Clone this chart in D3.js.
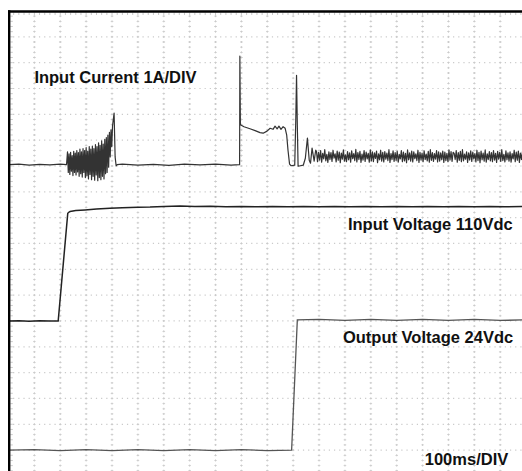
<!DOCTYPE html>
<html>
<head>
<meta charset="utf-8">
<script src="https://cdn.jsdelivr.net/npm/d3@7"></script>
<style>
body { margin: 0; background: #fff; }
svg { display: block; }
.label { font-family: "Liberation Sans", Arial, sans-serif; font-weight: bold; font-size: 16.5px; fill: #111; }
</style>
</head>
<body>
<script>
// scope settings: 100ms/DIV, channels in their own units per division
var msPerDiv = 100;
var ampPerDiv = 1, vinPerDiv = 25, voutPerDiv = 5;

// input current (A), [ms, A]
var currentPts = [
  [0,0],[40,0.02],[80,-0.02],[120,0.01],[160,-0.01],[200,0.02],[224,0],
  [225,0.1],[228,0.5],[231,-0.3],[234,0.42],[237,-0.38],[240,0.48],[243,-0.25],[246,0.35],
  [249,-0.42],[252,0.52],[255,-0.3],[258,0.45],[261,-0.4],[264,0.55],[267,-0.28],[270,0.47],
  [273,-0.45],[276,0.6],[279,-0.35],[282,0.5],[285,-0.48],[288,0.62],[291,-0.3],[294,0.55],
  [297,-0.5],[300,0.66],[303,-0.42],[306,0.52],[309,-0.55],[312,0.7],[315,-0.38],[318,0.6],
  [321,-0.58],[324,0.72],[327,-0.45],[330,0.62],[333,-0.6],[336,0.78],[339,-0.4],[342,0.7],
  [345,-0.62],[348,0.85],[351,-0.5],[354,0.75],[357,-0.58],[360,0.92],[363,-0.45],[366,0.8],
  [369,-0.55],[372,0.98],[375,-0.35],[378,1.05],[381,-0.3],[384,1.15],[387,-0.1],[390,1.25],
  [393,0.3],[396,1.35],[399,0.7],[402,1.5],[408,2.0],[412,0.3],[416,-0.05],[420,0],
  [440,0.02],[500,-0.02],[560,0.01],[620,-0.03],[680,0.02],[740,-0.01],[800,0.02],[860,-0.02],[892,0],
  [893,0],[894,4.2],[896,1.55],[910,1.47],[933,1.39],[953,1.32],[972,1.24],[984,1.22],[999,1.3],
  [1011,1.41],[1022,1.37],[1030,1.49],[1038,1.39],[1045,1.49],[1053,1.37],[1061,1.47],[1069,1.41],
  [1075,1.14],[1080,0.56],[1086,0.02],[1092,-0.04],[1106,-0.02],[1110,1.72],[1113,3.46],[1116,1.53],
  [1119,-0.06],[1139,-0.02],[1147,0.25],[1155,1.03],[1162,0.17],[1167,0.06],[1173,0.64],[1181,0.14],[1187,0.56]
];

// steady noise on the input current after start-up, sampled every bandStep ms
var bandStart = 1190, bandStep = 4;
var bandA = [
  0.52,0.12,0.48,0.18,0.55,0.10,0.44,0.22,0.58,0.15,
  0.40,0.09,0.50,0.20,0.47,0.13,0.56,0.25,0.42,0.11,
  0.53,0.17,0.49,0.08,0.45,0.21,0.57,0.14,0.38,0.12,
  0.51,0.19,0.46,0.10,0.54,0.23,0.43,0.16,0.59,0.11,
  0.47,0.20,0.52,0.09,0.41,0.18,0.55,0.13,0.49,0.22,
  0.44,0.10,0.57,0.15,0.50,0.12,0.46,0.24,0.53,0.08,
  0.42,0.19,0.56,0.14,0.48,0.11,0.51,0.21,0.45,0.16,
  0.58,0.09,0.43,0.20,0.54,0.13,0.47,0.17,0.52,0.10,
  0.40,0.22,0.55,0.12,0.49,0.15,0.44,0.08,0.57,0.19,
  0.46,0.14,0.53,0.11,0.50,0.23,0.42,0.16,0.56,0.09,
  0.48,0.18,0.45,0.12,0.54,0.20,0.41,0.15,0.52,0.10,
  0.58,0.17,0.47,0.13,0.43,0.21,0.55,0.11,0.50,0.14,
  0.46,0.19,0.53,0.09,0.49,0.16,0.44,0.12,0.57,0.18,
  0.51,0.13,0.48,0.44,0.20,0.55,0.10,0.47,0.17,0.52,
  0.12,0.58,0.15,0.41,0.21,0.50,0.09,0.46,0.18,0.54,
  0.13,0.49,0.22,0.43,0.11,0.56,0.16,0.48,0.08,0.53,
  0.19,0.45,0.14,0.57,0.10,0.42,0.20,0.51,0.15,0.47,
  0.12,0.55,0.18,0.44,0.09,0.52,0.21,0.48,0.13,0.58,
  0.16,0.40,0.11,0.54,0.19,0.46,0.14,0.50,0.10,0.43,
  0.22,0.56,0.12,0.49,0.17,0.53,0.09,0.45,0.20,0.51
];

// input voltage (V), [ms, V]
var vinPts = [
  [0,0],[40,0.3],[80,-0.2],[120,0.25],[160,-0.15],[192,0],[229,104.2],[234,105.4],[238,105.9],
  [260,106.8],[296,107.4],[340,108.3],[392,109.05],[440,109.6],[500,110.1],[547,110.3],[600,110.9],
  [663,111.2],[720,110.7],[780,111.0],[840,110.6],[900,110.9],[960,110.5],[1020,110.8],[1080,110.6],
  [1140,110.9],[1200,110.5],[1260,110.8],[1320,110.6],[1380,110.9],[1440,110.6],[1500,110.8],
  [1560,110.5],[1620,110.9],[1680,110.6],[1740,110.8],[1800,110.5],[1860,110.9],[1920,110.6],[1990,110.8]
];

// output voltage (V), [ms, V]
var voutPts = [
  [0,0],[100,0.1],[200,-0.1],[300,0.1],[400,-0.1],[500,0.1],[600,-0.1],[700,0.1],[800,-0.1],
  [900,0.1],[1000,-0.1],[1094,0],[1116,25.2],[1200,25.3],[1300,25.1],[1400,25.3],[1500,25.1],
  [1600,25.3],[1700,25.1],[1800,25.3],[1900,25.1],[1990,25.2]
];

var labelText = ["Input Current 1A/DIV", "Input Voltage 110Vdc", "Output Voltage 24Vdc", "100ms/DIV"];

var w = 522, h = 471;
var colPx = 25.88, rowPx = 25.83;

var svg = d3.select("body").append("svg")
    .attr("width", w)
    .attr("height", h);

var x = d3.scaleLinear().domain([0, 20 * msPerDiv]).range([8.5, 8.5 + 20 * colPx]);
var y = d3.scaleLinear().domain([0, 18]).range([11, 11 + 18 * rowPx]);

// graticule: vertical lines with small crosses, horizontal dotted rows
var colTicks = d3.range(1, 21).map(function(k) { return k * msPerDiv; });
var rowTicks = d3.range(1, 19);

var gridColor = "#cacaca";

function cleanGrid(g) { g.select(".domain").remove(); }

svg.append("g")
    .attr("transform", "translate(-0.5,11)")
    .call(d3.axisBottom(x).tickValues(colTicks).tickSize(h).tickFormat(""))
    .call(cleanGrid)
    .selectAll("line")
    .attr("stroke", gridColor)
    .attr("stroke-dasharray", "2," + (rowPx / 5 - 2))
    .attr("stroke-dashoffset", 1);

svg.append("g")
    .attr("transform", "translate(-0.5,11)")
    .call(d3.axisBottom(x).tickValues(colTicks).tickSize(h).tickFormat(""))
    .call(cleanGrid)
    .selectAll("line")
    .attr("stroke", gridColor)
    .attr("stroke-width", 2.6)
    .attr("stroke-dasharray", "0.8," + (rowPx / 5 - 0.8))
    .attr("stroke-dashoffset", 0.4);

svg.append("g")
    .attr("transform", "translate(8.5,-0.5)")
    .call(d3.axisRight(y).tickValues(rowTicks).tickSize(w).tickFormat(""))
    .call(cleanGrid)
    .selectAll("line")
    .attr("stroke", gridColor)
    .attr("stroke-width", 1.2)
    .attr("stroke-dasharray", "1.2," + (colPx / 5 - 1.2))
    .attr("stroke-dashoffset", 0.6);

// minor ticks along the frame
svg.append("g")
    .attr("transform", "translate(-0.5,12.5)")
    .call(d3.axisBottom(x).tickValues(d3.range(20, 2001, 20)).tickSize(2.5).tickFormat(""))
    .call(cleanGrid)
    .selectAll("line").attr("stroke", gridColor);

svg.append("g")
    .attr("transform", "translate(10.3,-0.5)")
    .call(d3.axisRight(y).tickValues(d3.range(0.2, 18.01, 0.2)).tickSize(2.5).tickFormat(""))
    .call(cleanGrid)
    .selectAll("line").attr("stroke", gridColor);

// traces
function trace(zero, perDiv) {
  return d3.line()
    .x(function(d) { return x(d[0]); })
    .y(function(d) { return y(zero - d[1] / perDiv); });
}

var currentAll = currentPts.concat(bandA.map(function(v, i) { return [bandStart + i * bandStep, v]; }));

svg.append("path")
    .datum(voutPts)
    .attr("fill", "none")
    .attr("stroke", "#555")
    .attr("stroke-width", 1.3)
    .attr("d", trace(17, voutPerDiv));

svg.append("path")
    .datum(vinPts)
    .attr("fill", "none")
    .attr("stroke", "#222")
    .attr("stroke-width", 1.5)
    .attr("d", trace(12, vinPerDiv));

svg.append("path")
    .datum(currentAll)
    .attr("fill", "none")
    .attr("stroke", "#333")
    .attr("stroke-width", 1.2)
    .attr("stroke-linejoin", "round")
    .attr("d", trace(5.95, ampPerDiv));

// frame
svg.append("line").attr("x1", 8).attr("x2", w).attr("y1", 11.5).attr("y2", 11.5)
    .attr("stroke", "#000").attr("stroke-width", 2.4);
svg.append("line").attr("x1", 9.2).attr("x2", 9.2).attr("y1", 10.3).attr("y2", h)
    .attr("stroke", "#000").attr("stroke-width", 2.4);

// channel labels
var labelPos = [[100, 2.8, "start"], [1948, 8.48, "end"], [1950, 12.86, "end"], [1931, 17.58, "end"]];

svg.selectAll(".label")
    .data(labelText)
    .enter().append("text")
    .attr("class", "label")
    .attr("x", function(d, i) { return x(labelPos[i][0]); })
    .attr("y", function(d, i) { return y(labelPos[i][1]); })
    .attr("text-anchor", function(d, i) { return labelPos[i][2]; })
    .text(function(d) { return d; });
</script>
</body>
</html>
